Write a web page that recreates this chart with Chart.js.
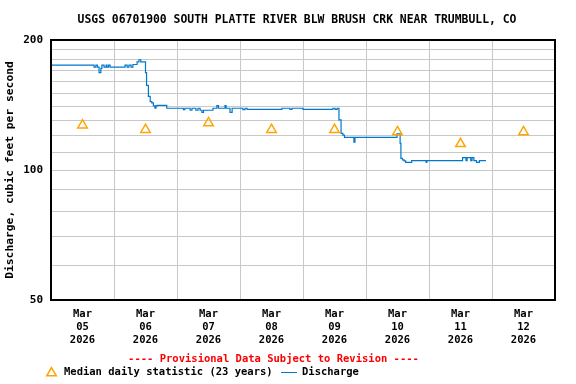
<!DOCTYPE html>
<html>
<head>
<meta charset="utf-8">
<script src="https://cdn.jsdelivr.net/npm/chart.js@4.4.1/dist/chart.umd.min.js"></script>
<style>
  html, body { margin: 0; padding: 0; background: #fff; }
  #wrap { width: 576px; height: 384px; }
</style>
</head>
<body>
<div id="wrap"><canvas id="grafica" width="576" height="384"></canvas></div>
<script>
// Caudal (horas desde 05 Mar 2026 00:00 -> pies cubicos por segundo)
var horasCaudal = [
    0, 16.4, 17.1, 17.7, 18.3, 19.0, 19.4, 20.2, 21.0, 21.3, 21.9, 22.5,
    28.2, 29.0, 29.7, 30.5, 31.2, 32.8, 33.5, 34.2, 36.0, 36.4, 37.1, 37.8,
    38.4, 39.0, 39.6, 40.0, 40.5, 44.1, 50.4, 51.0, 53.0, 53.7, 55.2, 56.0,
    56.8, 57.5, 58.1, 61.7, 63.2, 63.8, 66.3, 66.7, 68.2, 69.0, 73.1, 73.9,
    74.7, 88.0, 91.0, 91.8, 96.0, 107.4, 108.2, 109.0, 109.7, 110.5, 111.2, 111.8,
    115.4, 115.8, 131.8, 133.0, 133.3, 133.9, 134.5, 135.1, 137.4, 142.9, 143.2, 156.8,
    158.1, 158.5, 159.9, 160.4, 161.1, 162.1, 163.2, 165.7
];
var valoresCaudal = [
    175, 173, 175, 173, 168, 172, 175, 173, 175, 173, 175, 173,
    175, 173, 175, 173, 175.5, 178, 180, 178, 168, 157, 148, 144,
    143, 140.7, 139, 140.7, 141.2, 139, 138, 139, 137.5, 139, 137.5, 139,
    137.5, 136, 137.5, 139, 141, 139, 141, 139, 136, 139, 138, 139,
    138.2, 139, 138.2, 139, 138.2, 139, 138.2, 139, 130.6, 121.6, 120.5, 119,
    116, 119, 121.2, 115.3, 106.4, 105.5, 105, 104.2, 105.1, 104.2, 105.1, 106.8,
    105.1, 106.8, 105.1, 106.8, 105.1, 104.2, 105.1, 105.1
];

// Mediana diaria (23 años), a mediodia de cada dia
var horasMediana = [12, 36, 60, 84, 108, 132, 156, 180];
var valoresMediana = [127, 124, 128.5, 124, 124, 122.5, 115, 122.5];

var etiquetasFecha = [
    ['Mar', '05', '2026'], ['Mar', '06', '2026'], ['Mar', '07', '2026'], ['Mar', '08', '2026'],
    ['Mar', '09', '2026'], ['Mar', '10', '2026'], ['Mar', '11', '2026'], ['Mar', '12', '2026']
];

var ticksY = [50, 60, 70, 80, 90, 100, 110, 120, 130, 140, 150, 160, 170, 180, 190, 200];
var ticksYConEtiqueta = [50, 100, 200];

var TITULO = 'USGS 06701900 SOUTH PLATTE RIVER BLW BRUSH CRK NEAR TRUMBULL, CO';
var FUENTE = '"DejaVu Sans Mono", "Liberation Mono", monospace';
var AZUL = 'rgb(0, 120, 204)';
var NARANJA = '#ffa500';

var puntosCaudal = horasCaudal.map(function (h, i) { return { x: h, y: valoresCaudal[i] }; });
var puntosMediana = horasMediana.map(function (h, i) { return { x: h, y: valoresMediana[i] }; });

// Titulo, marco negro y textos de abajo (aviso y leyenda)
var marcoYNotas = {
    id: 'marcoYNotas',
    afterDraw: function (chart) {
        var ctx = chart.ctx;
        var a = chart.chartArea;
        ctx.save();
        ctx.strokeStyle = '#000';
        ctx.lineWidth = 2;
        ctx.strokeRect(Math.round(a.left), Math.round(a.top), Math.round(a.right - a.left), Math.round(a.bottom - a.top));

        ctx.textBaseline = 'middle';
        ctx.textAlign = 'center';
        ctx.fillStyle = '#000';
        ctx.font = 'bold 11.4px ' + FUENTE;
        ctx.fillText(TITULO, 297, 20);

        ctx.font = 'bold 10.5px ' + FUENTE;
        ctx.fillStyle = '#ff0000';
        ctx.fillText('---- Provisional Data Subject to Revision ----', 273.5, 359);

        // triangulo de la leyenda
        var cx = 51.5, cy = 373, r = 5.5;
        ctx.strokeStyle = NARANJA;
        ctx.lineWidth = 1.5;
        ctx.beginPath();
        ctx.moveTo(cx, cy - r);
        ctx.lineTo(cx + r * 0.866, cy + r / 2);
        ctx.lineTo(cx - r * 0.866, cy + r / 2);
        ctx.closePath();
        ctx.stroke();

        ctx.textAlign = 'left';
        ctx.fillStyle = '#000';
        ctx.fillText('Median daily statistic (23 years)', 64, 372);

        ctx.strokeStyle = AZUL;
        ctx.lineWidth = 1;
        ctx.beginPath();
        ctx.moveTo(281, 372.5);
        ctx.lineTo(297, 372.5);
        ctx.stroke();
        ctx.fillText('Discharge', 302, 372);
        ctx.restore();
    }
};

var ctx1 = document.getElementById('grafica');
var grafica = new Chart(ctx1.getContext('2d'), {
    type: 'line',
    data: {
        datasets: [{
            label: 'Discharge',
            data: puntosCaudal,
            borderColor: AZUL,
            borderWidth: 1.2,
            stepped: true,
            pointRadius: 0,
            fill: false,
            order: 2
        }, {
            label: 'Median daily statistic (23 years)',
            data: puntosMediana,
            showLine: false,
            pointStyle: 'triangle',
            pointRadius: 5.5,
            pointBorderWidth: 1.5,
            pointBorderColor: NARANJA,
            pointBackgroundColor: 'rgba(0,0,0,0)',
            order: 1
        }]
    },
    options: {
        responsive: false,
        animation: false,
        layout: { padding: { left: 0, right: 21, top: 40, bottom: 34 } },
        plugins: {
            legend: { display: false },
            tooltip: { enabled: false },
            title: { display: false }
        },
        scales: {
            x: {
                type: 'linear',
                min: 0,
                max: 192,
                afterBuildTicks: function (scale) {
                    var t = [];
                    for (var h = 0; h <= 192; h += 12) { t.push({ value: h }); }
                    scale.ticks = t;
                },
                afterFit: function (scale) { scale.height = 50; },
                grid: {
                    drawTicks: false,
                    color: function (c) {
                        return (c.tick && c.tick.value % 24 === 0) ? '#c8c8c8' : 'rgba(0,0,0,0)';
                    }
                },
                border: { display: false },
                ticks: {
                    autoSkip: false,
                    maxRotation: 0,
                    padding: 8,
                    color: '#000',
                    font: { family: FUENTE, size: 10.5, weight: 'bold', lineHeight: '13px' },
                    callback: function (value) {
                        var i = horasMediana.indexOf(value);
                        return i >= 0 ? etiquetasFecha[i] : '';
                    }
                }
            },
            y: {
                type: 'logarithmic',
                min: 50,
                max: 200,
                afterBuildTicks: function (scale) {
                    scale.ticks = ticksY.map(function (v) { return { value: v }; });
                },
                afterFit: function (scale) { scale.width = 51; },
                grid: { drawTicks: false, color: '#c8c8c8' },
                border: { display: false },
                title: {
                    display: true,
                    text: 'Discharge, cubic feet per second',
                    color: '#000',
                    font: { family: FUENTE, size: 11.3, weight: 'bold' },
                    padding: { top: 3, bottom: 0 }
                },
                ticks: {
                    autoSkip: false,
                    padding: 8,
                    color: '#000',
                    font: { family: FUENTE, size: 11, weight: 'bold' },
                    callback: function (value) {
                        return ticksYConEtiqueta.indexOf(value) >= 0 ? String(value) : '';
                    }
                }
            }
        }
    },
    plugins: [marcoYNotas]
});
</script>
</body>
</html>
